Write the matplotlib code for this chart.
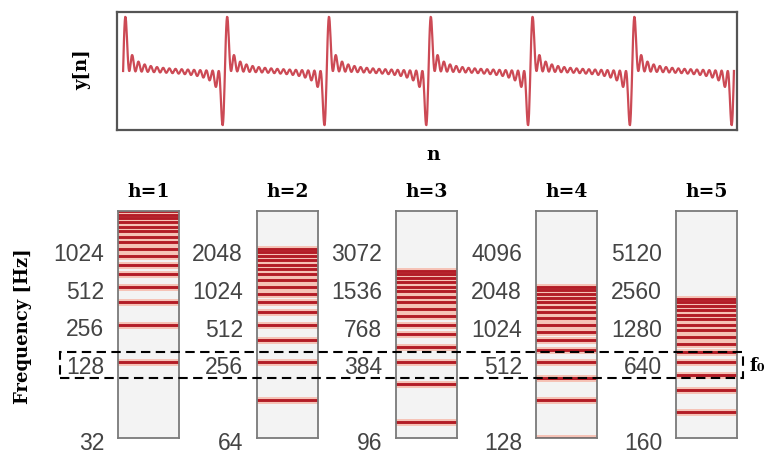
import numpy as np
import matplotlib
matplotlib.use("Agg")
import matplotlib.pyplot as plt
from matplotlib.patches import Rectangle
from matplotlib import transforms

# ---------------- data ----------------
# harmonic content of the periodic signal y[n]
harmonic_numbers = [1, 2, 3, 4, 5, 6, 7, 8, 9, 10, 11, 12, 13, 14, 15, 16]
harmonic_amplitudes = [1.0, 1.0, 1.0, 1.0, 1.0, 1.0, 1.0, 1.0,
                       1.0, 1.0, 1.0, 1.0, 1.0, 1.0, 1.0, 1.0]
n_periods = 6

# harmonic frequencies (Hz) shown in each HCQT channel
harmonic_freqs = [128, 256, 384, 512, 640, 768, 896, 1024,
                  1152, 1280, 1408, 1536, 1664, 1792, 1920, 2048]

# HCQT channels, frequency range and tick labels
h_values = [1, 2, 3, 4, 5]
f_low = [32, 64, 96, 128, 160]
f_high = [2048, 4096, 6144, 8192, 10240]
tick_values = [
    [32, 128, 256, 512, 1024],
    [64, 256, 512, 1024, 2048],
    [96, 384, 768, 1536, 3072],
    [128, 512, 1024, 2048, 4096],
    [160, 640, 1280, 2560, 5120],
]
# dashed box around f0 (Hz, in the h=1 channel)
box_low, box_high = 96, 154

# ---------------- figure ----------------
W, H = 770, 455
fig = plt.figure(figsize=(W / 100, H / 100), dpi=100)
serif = "DejaVu Serif"
sans = "Liberation Sans"

def fx(px):
    return px / W

def fy(py):
    return 1 - py / H

# top waveform
ax_top = fig.add_axes([fx(117), fy(130), fx(737 - 117), (130 - 12) / H])
t = np.linspace(0, n_periods, n_periods * 240 + 1)
y = np.zeros_like(t)
for k, a in zip(harmonic_numbers, harmonic_amplitudes):
    y += a * np.sin(2 * np.pi * k * t)
ax_top.plot(t, y, color="#cc4a55", lw=1.6)
ymax = np.abs(y).max()
ax_top.set_ylim(-1.09 * ymax, 1.09 * ymax)
ax_top.set_xlim(-0.06, n_periods + 0.03)
ax_top.set_xticks([])
ax_top.set_yticks([])
for s in ax_top.spines.values():
    s.set_color("#555555")
    s.set_linewidth(1.6)
fig.text(fx(82), fy(70), "y[n]", rotation=90, ha="center", va="center",
         fontfamily=serif, fontweight="bold", fontsize=13)
fig.text(fx(433), fy(155), "n", ha="center", va="center",
         fontfamily=serif, fontweight="bold", fontsize=13.5)

# HCQT channels
panel_left = [118, 257, 396, 536, 676]
label_shift = transforms.ScaledTranslation(0, -3 / 100, fig.dpi_scale_trans)
axes = []
for i, h in enumerate(h_values):
    ax = fig.add_axes([fx(panel_left[i]), fy(438), fx(61), (438 - 211) / H])
    ax.set_facecolor("#f3f3f3")
    ax.set_yscale("log", base=2)
    ax.set_ylim(f_low[i], f_high[i])
    ax.set_xlim(0, 1)
    for f in harmonic_freqs:
        if f_low[i] <= f <= f_high[i]:
            ax.axhline(f, color="#f6c2b6", lw=5.0, zorder=2)
    for f in harmonic_freqs:
        if f_low[i] <= f <= f_high[i]:
            ax.axhline(f, color="#b31c26", lw=2.1, zorder=3)
    ax.set_yticks(tick_values[i])
    ax.set_yticklabels([str(v) for v in tick_values[i]])
    ax.minorticks_off()
    ax.set_xticks([])
    ax.tick_params(axis="y", length=0, pad=10, labelsize=16.5,
                   labelcolor="#444444")
    for lab in ax.get_yticklabels():
        lab.set_fontfamily(sans)
        lab.set_transform(lab.get_transform() + label_shift)
    for s in ax.spines.values():
        s.set_color("#7a7a7a")
        s.set_linewidth(1.3)
        s.set_zorder(5)
    ax.set_title(f"h={h}", fontfamily=serif, fontweight="bold",
                 fontsize=13.5, pad=10)
    axes.append(ax)

fig.text(fx(23), fy(326), "Frequency [Hz]", rotation=90, ha="center",
         va="center", fontfamily=serif, fontweight="bold", fontsize=13)

# dashed box across all channels
trans = transforms.blended_transform_factory(fig.transFigure, axes[0].transData)
rect = Rectangle((fx(60), box_low), fx(743 - 60), box_high - box_low,
                 transform=trans, fill=False, edgecolor="black", lw=1.5,
                 ls=(0, (4.5, 2.6)), clip_on=False, zorder=10)
fig.add_artist(rect)
fig.text(fx(750), fy(366), "f\u2080", ha="left", va="center",
         fontfamily=serif, fontweight="bold", fontsize=13)

fig.savefig("out.png", dpi=100)
